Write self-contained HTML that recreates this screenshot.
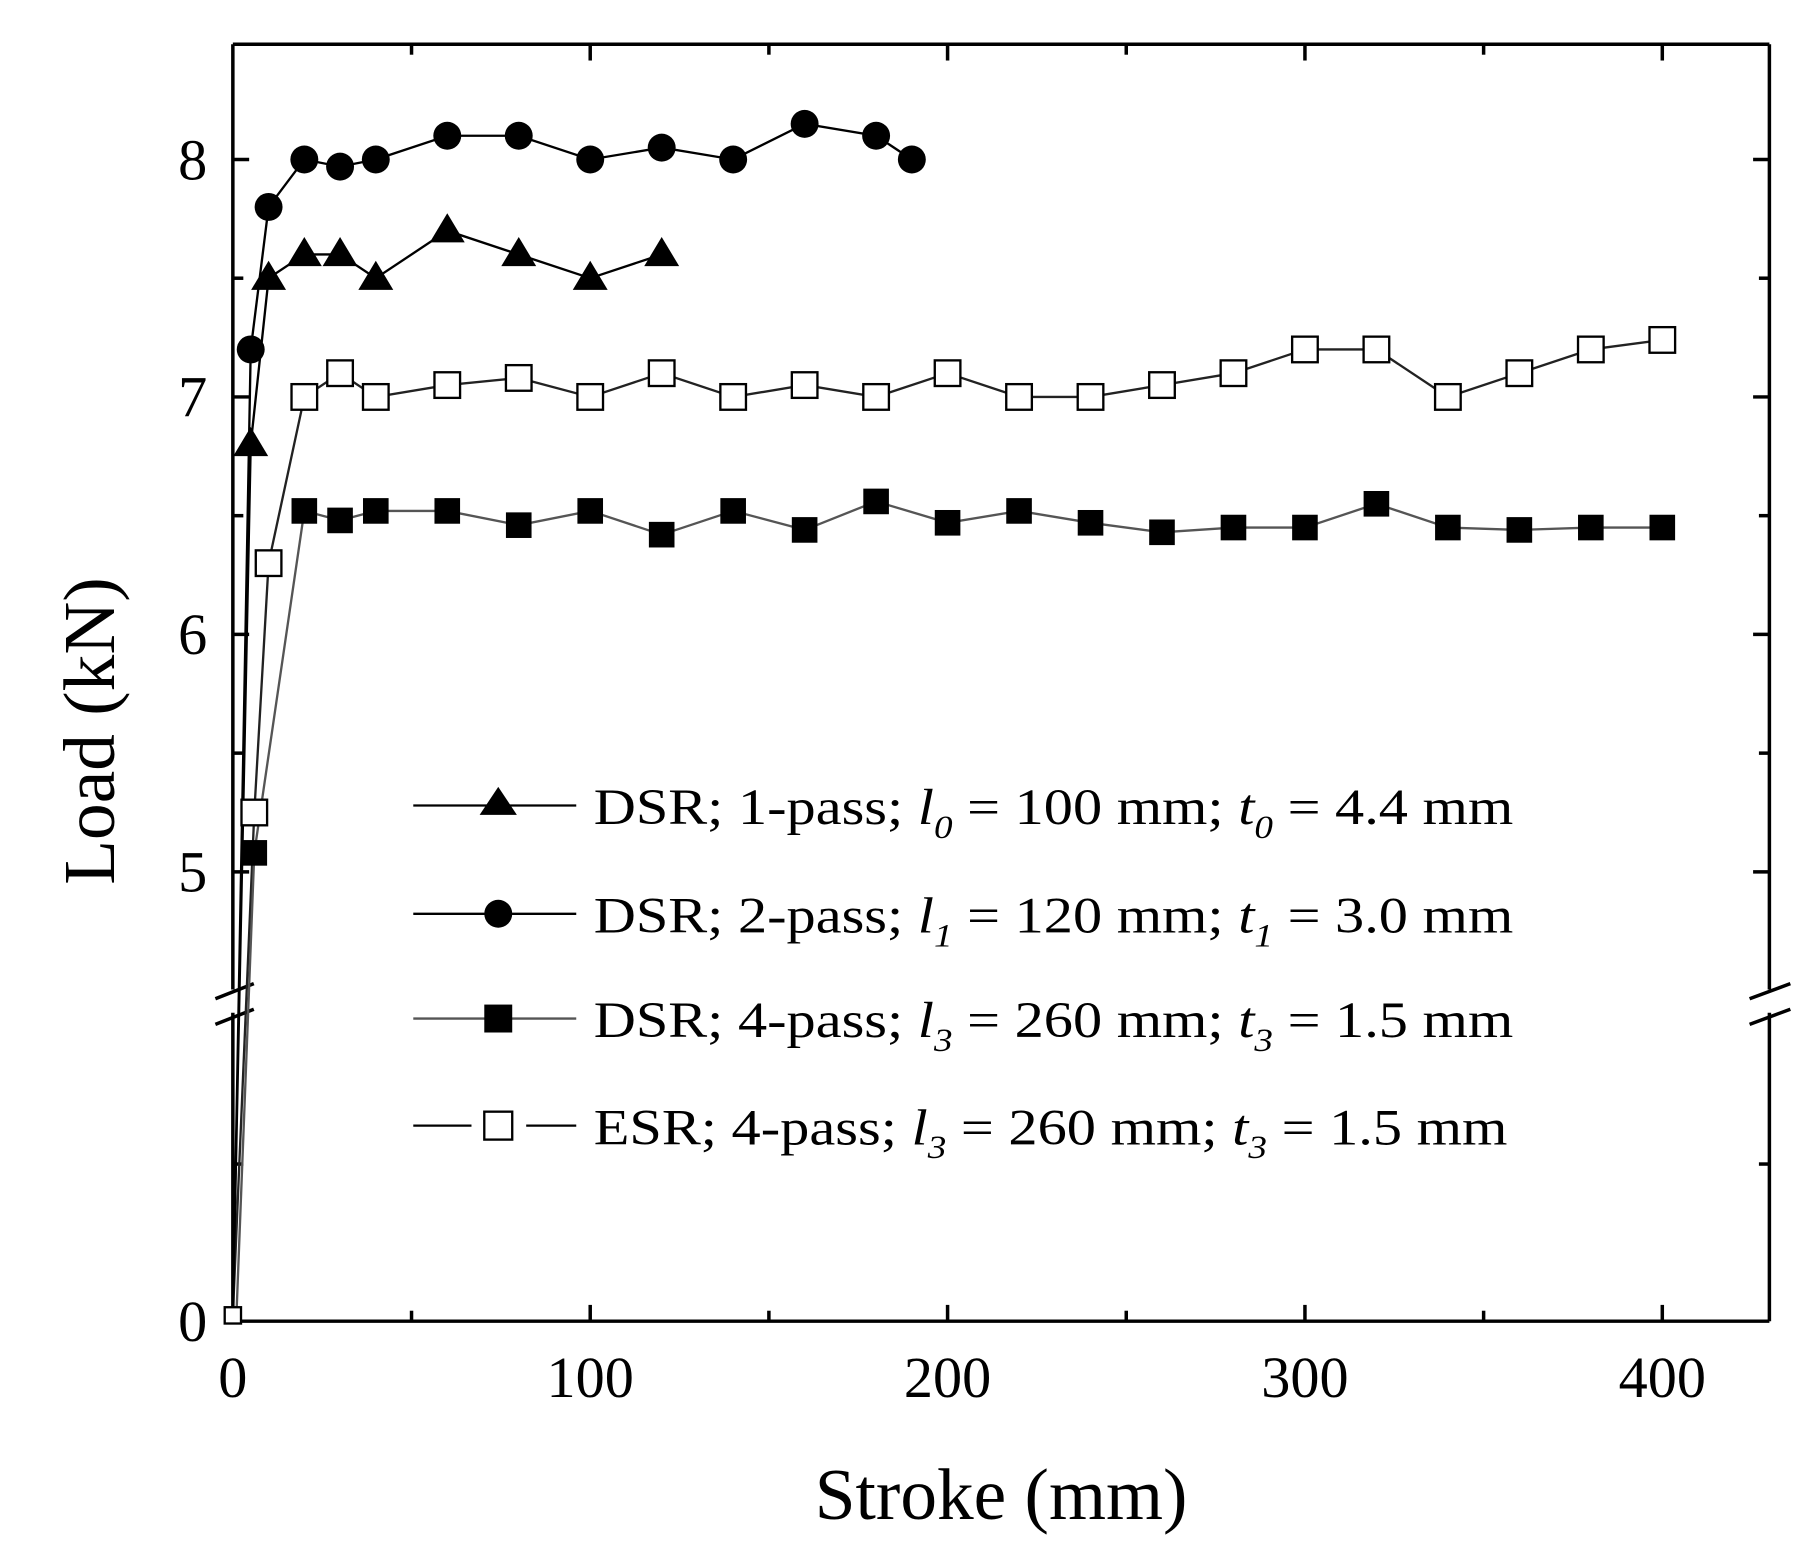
<!DOCTYPE html>
<html><head><meta charset="utf-8"><style>html,body{margin:0;padding:0;background:#fff}svg{display:block}</style></head>
<body>
<svg id="s" width="1816" height="1554" viewBox="0 0 1560 1335" xmlns="http://www.w3.org/2000/svg" font-family="Liberation Serif, serif">
<rect width="1560" height="1335" fill="#fff"/>
<g id="axes" stroke="#000" stroke-width="3" fill="none">
<line x1="200" y1="38" x2="1520" y2="38"/>
<line x1="200" y1="1135" x2="1520" y2="1135"/>
<line x1="200" y1="38" x2="200" y2="850"/>
<line x1="200" y1="870" x2="200" y2="1135"/>
<line x1="1520" y1="38" x2="1520" y2="850"/>
<line x1="1520" y1="870" x2="1520" y2="1135"/>
<line x1="185" y1="858" x2="218" y2="845"/>
<line x1="185" y1="880" x2="218" y2="867"/>
<line x1="1503" y1="858" x2="1538" y2="845"/>
<line x1="1503" y1="880" x2="1538" y2="867"/>
</g>
<g id="ticks" stroke="#000" stroke-width="3"></g>
<g font-size="50" text-anchor="middle" fill="#000">
<text x="200" y="1200">0</text><text x="507" y="1200">100</text><text x="814" y="1200">200</text><text x="1121" y="1200">300</text><text x="1428" y="1200">400</text>
</g>
<g font-size="50" text-anchor="end" fill="#000">
<text x="178" y="154">8</text><text x="178" y="358">7</text><text x="178" y="562">6</text><text x="178" y="766">5</text><text x="178" y="1152">0</text>
</g>
<text x="860" y="1305" font-size="63" text-anchor="middle">Stroke (mm)</text>
<text transform="translate(98,628) rotate(-90)" font-size="63" text-anchor="middle">Load (kN)</text>
<g id="data"></g>
<g id="legend" font-size="44" fill="#000">
<line x1="355" y1="692" x2="495" y2="692" stroke="#000" stroke-width="2"/>
<polygon points="428,676 444,700 412,700" fill="#000"/>
<text x="510" y="708" textLength="790" lengthAdjust="spacingAndGlyphs">DSR; 1-pass; <tspan font-style="italic">l</tspan><tspan font-style="italic" font-size="28" dy="12">0</tspan><tspan dy="-12"> = 100 mm; </tspan><tspan font-style="italic">t</tspan><tspan font-style="italic" font-size="28" dy="12">0</tspan><tspan dy="-12"> = 4.4 mm</tspan></text>
<line x1="355" y1="785" x2="495" y2="785" stroke="#000" stroke-width="2"/>
<circle cx="428" cy="785" r="12" fill="#000"/>
<text x="510" y="801" textLength="790" lengthAdjust="spacingAndGlyphs">DSR; 2-pass; <tspan font-style="italic">l</tspan><tspan font-style="italic" font-size="28" dy="12">1</tspan><tspan dy="-12"> = 120 mm; </tspan><tspan font-style="italic">t</tspan><tspan font-style="italic" font-size="28" dy="12">1</tspan><tspan dy="-12"> = 3.0 mm</tspan></text>
<line x1="355" y1="875" x2="495" y2="875" stroke="#555" stroke-width="2"/>
<rect x="416" y="863" width="24" height="24" fill="#000"/>
<text x="510" y="891" textLength="790" lengthAdjust="spacingAndGlyphs">DSR; 4-pass; <tspan font-style="italic">l</tspan><tspan font-style="italic" font-size="28" dy="12">3</tspan><tspan dy="-12"> = 260 mm; </tspan><tspan font-style="italic">t</tspan><tspan font-style="italic" font-size="28" dy="12">3</tspan><tspan dy="-12"> = 1.5 mm</tspan></text>
<line x1="355" y1="967" x2="405" y2="967" stroke="#000" stroke-width="2"/>
<line x1="452" y1="967" x2="495" y2="967" stroke="#000" stroke-width="2"/>
<rect x="416" y="955" width="24" height="24" fill="#fff" stroke="#000" stroke-width="2"/>
<text x="510" y="983" textLength="785" lengthAdjust="spacingAndGlyphs">ESR; 4-pass; <tspan font-style="italic">l</tspan><tspan font-style="italic" font-size="28" dy="12">3</tspan><tspan dy="-12"> = 260 mm; </tspan><tspan font-style="italic">t</tspan><tspan font-style="italic" font-size="28" dy="12">3</tspan><tspan dy="-12"> = 1.5 mm</tspan></text>
</g>
<script>
var NS="http://www.w3.org/2000/svg";
function X(x){return 200+3.07*x}
function Y(v){return v<=0.01?1130:1769-204*v}
function el(p,t,a){var e=document.createElementNS(NS,t);for(var k in a)e.setAttribute(k,a[k]);p.appendChild(e);return e}
var tk=document.getElementById('ticks');
for(var x=50;x<=400;x+=50){var l=(x%100==0)?14:9;el(tk,'line',{x1:X(x),y1:1135,x2:X(x),y2:1135-l});el(tk,'line',{x1:X(x),y1:38,x2:X(x),y2:38+l});}
for(var v=4.5;v<=8.51;v+=0.5){var y=Y(v);if(y>840||y<40)continue;var l=(v%1==0)?14:9;el(tk,'line',{x1:200,y1:y,x2:200+l,y2:y});el(tk,'line',{x1:1520,y1:y,x2:1520-l,y2:y});}
el(tk,'line',{x1:200,y1:1000,x2:209,y2:1000});el(tk,'line',{x1:1520,y1:1000,x2:1511,y2:1000});
var d=document.getElementById('data');
var tri=[[0,0],[5,6.8],[10,7.5],[20,7.6],[30,7.6],[40,7.5],[60,7.7],[80,7.6],[100,7.5],[120,7.6]];
var cir=[[0,0],[5,7.2],[10,7.8],[20,8.0],[30,7.97],[40,8.0],[60,8.1],[80,8.1],[100,8.0],[120,8.05],[140,8.0],[160,8.15],[180,8.1],[190,8.0]];
var fsq=[[1,0],[6,5.08],[20,6.52],[30,6.48],[40,6.52],[60,6.52],[80,6.46],[100,6.52],[120,6.42],[140,6.52],[160,6.44],[180,6.56],[200,6.47],[220,6.52],[240,6.47],[260,6.43],[280,6.45],[300,6.45],[320,6.55],[340,6.45],[360,6.44],[380,6.45],[400,6.45]];
var osq=[[0,0],[6,5.25],[10,6.3],[20,7.0],[30,7.1],[40,7.0],[60,7.05],[80,7.08],[100,7.0],[120,7.1],[140,7.0],[160,7.05],[180,7.0],[200,7.1],[220,7.0],[240,7.0],[260,7.05],[280,7.1],[300,7.2],[320,7.2],[340,7.0],[360,7.1],[380,7.2],[400,7.24]];
function line(a,c){el(d,'polyline',{points:a.map(function(p){return X(p[0])+','+Y(p[1])}).join(' '),fill:'none',stroke:c,'stroke-width':2});}
line(osq,'#222');line(fsq,'#555');line(tri,'#000');line(cir,'#000');
osq.forEach(function(p,i){var x=X(p[0]),y=Y(p[1]);var s=i==0?14:22;el(d,'rect',{x:x-s/2,y:y-s/2,width:s,height:s,fill:'#fff',stroke:'#000','stroke-width':2});});
fsq.forEach(function(p,i){if(i==0)return;var x=X(p[0]),y=Y(p[1]);el(d,'rect',{x:x-11,y:y-11,width:22,height:22,fill:'#000'});});
tri.forEach(function(p,i){if(i==0)return;var x=X(p[0]),y=Y(p[1]);el(d,'polygon',{points:(x)+','+(y-15)+' '+(x+15)+','+(y+10)+' '+(x-15)+','+(y+10),fill:'#000'});});
cir.forEach(function(p,i){if(i==0)return;el(d,'circle',{cx:X(p[0]),cy:Y(p[1]),r:12,fill:'#000'});});
</script>
</svg>
</body></html>
